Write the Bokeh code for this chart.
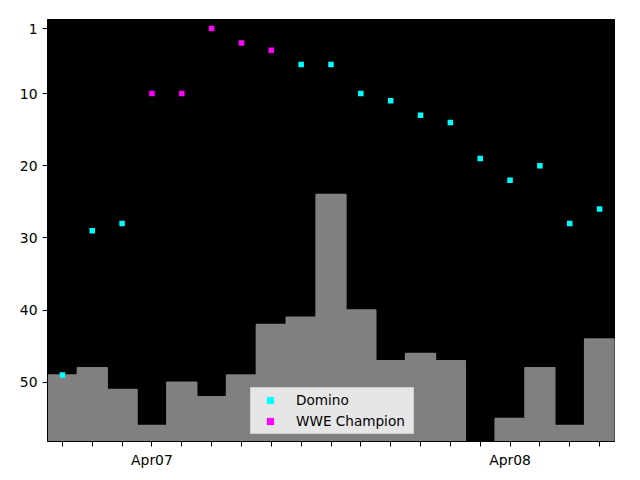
import pandas as pd
from bokeh.plotting import figure
from bokeh.models import Range1d, FixedTicker, CustomJSTickFormatter, ColumnDataSource, Legend, LegendItem
from bokeh.embed import file_html
from bokeh.resources import INLINE

# ---- data ----
times = [
    "2018-04-06 18:00", "2018-04-06 20:00", "2018-04-06 22:00",
    "2018-04-07 00:00", "2018-04-07 02:00", "2018-04-07 04:00",
    "2018-04-07 06:00", "2018-04-07 08:00", "2018-04-07 10:00",
    "2018-04-07 12:00", "2018-04-07 14:00", "2018-04-07 16:00",
    "2018-04-07 18:00", "2018-04-07 20:00", "2018-04-07 22:00",
    "2018-04-08 00:00", "2018-04-08 02:00", "2018-04-08 04:00",
    "2018-04-08 06:00",
]
nan = float("nan")
bar_values = [49, 48, 51, 56, 50, 52, 49, 42, 41, 24, 40, 47, 46, 47, nan, 55, 48, 56, 44]
domino = [49, 29, 28, nan, nan, nan, nan, nan, 6, 6, 10, 11, 13, 14, 19, 22, 20, 28, 26]
wwe_champion = [nan, nan, nan, 10, 10, 1, 3, 4, nan, nan, nan, nan, nan, nan, nan, nan, nan, nan, nan]
y_ticks = [1, 10, 20, 30, 40, 50]

dt = pd.to_datetime(times)
interval_ms = 2 * 3600 * 1000
y_bottom = 58.2

src = ColumnDataSource(dict(x=dt, bars=bar_values, domino=domino, wwe=wwe_champion))

x_start = dt[0] - pd.Timedelta(hours=1)
x_end = dt[-1] + pd.Timedelta(hours=1)

p = figure(
    width=640, height=480,
    frame_width=567, frame_height=422,
    x_axis_type="datetime",
    x_range=Range1d(x_start, x_end),
    y_range=Range1d(y_bottom, -0.25),
    output_backend="svg", toolbar_location=None,
    min_border_left=47, min_border_right=26, min_border_top=19, min_border_bottom=39,
)
p.background_fill_color = "black"
p.border_fill_color = "white"
p.outline_line_color = "black"
p.grid.visible = False

p.vbar(x="x", width=interval_ms, top="bars", bottom=y_bottom, source=src,
       fill_color="#808080", line_color="#808080", line_width=1.5)

r1 = p.scatter("x", "domino", source=src, marker="square", size=5.5,
               fill_color="#00ffff", line_color=None)
r2 = p.scatter("x", "wwe", source=src, marker="square", size=5.5,
               fill_color="#ff00ff", line_color=None)

tick_ms = [t.value // 10**6 for t in dt]
p.xaxis.ticker = FixedTicker(ticks=tick_ms, minor_ticks=[])
p.xaxis.formatter = CustomJSTickFormatter(code="""
const d = new Date(tick);
if (d.getUTCHours() !== 0) return "";
const months = ["Jan","Feb","Mar","Apr","May","Jun","Jul","Aug","Sep","Oct","Nov","Dec"];
return months[d.getUTCMonth()] + String(d.getUTCDate()).padStart(2, "0");
""")
p.yaxis.ticker = FixedTicker(ticks=y_ticks, minor_ticks=[])

for ax in (p.xaxis[0], p.yaxis[0]):
    ax.major_tick_out = 5
    ax.major_tick_in = 0
    ax.minor_tick_out = 0
    ax.minor_tick_in = 0
    ax.axis_line_color = "black"
    ax.major_tick_line_color = "black"
    ax.major_label_text_font = "DejaVu Sans"
    ax.major_label_text_font_size = "13.9px"
    ax.major_label_text_color = "black"
    ax.major_label_standoff = 5

legend = Legend(items=[LegendItem(label="Domino", renderers=[r1]),
                       LegendItem(label="WWE Champion", renderers=[r2])],
                location=(203, 7))
legend.label_text_font = "DejaVu Sans"
legend.label_text_font_size = "13.6px"
legend.label_text_color = "black"
legend.background_fill_color = "white"
legend.background_fill_alpha = 0.8
legend.border_line_color = "#cccccc"
legend.border_line_alpha = 1.0
legend.padding = 3
legend.margin = 0
legend.spacing = 3
legend.glyph_width = 32
legend.glyph_height = 18
legend.label_height = 18
legend.label_standoff = 10
legend.label_width = 114
p.add_layout(legend, "center")

open("out.html", "w").write(file_html(p, INLINE))
